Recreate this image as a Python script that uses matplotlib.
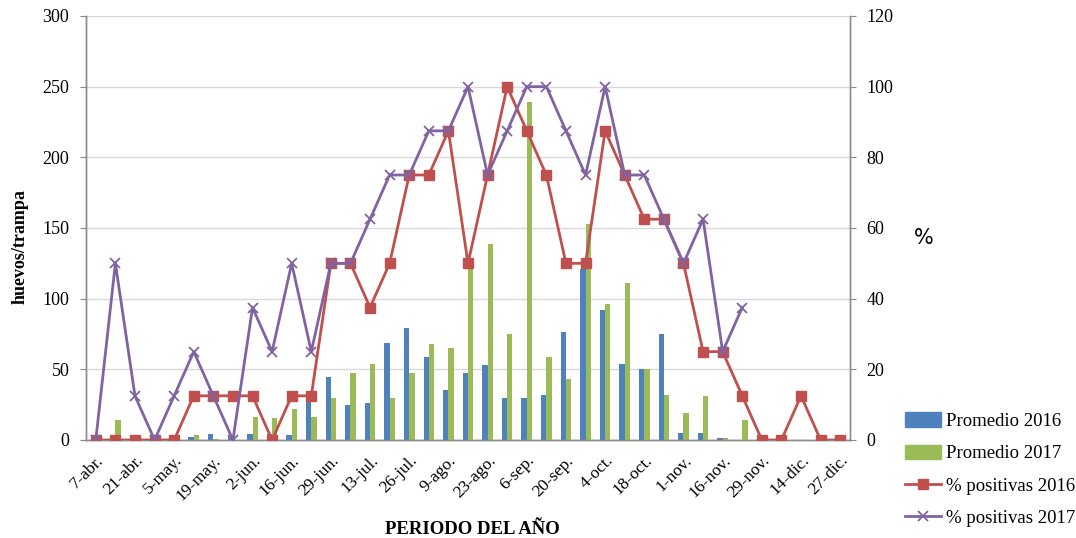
import numpy as np
import matplotlib
matplotlib.use("Agg")
import matplotlib.pyplot as plt
from matplotlib.patches import Patch
from matplotlib.lines import Line2D

plt.rcParams['font.family'] = ['Liberation Serif', 'DejaVu Serif']

tick_labels = ['7-abr.', '21-abr.', '5-may.', '19-may.', '2-jun.', '16-jun.', '29-jun.',
               '13-jul.', '26-jul.', '9-ago.', '23-ago.', '6-sep.', '20-sep.', '4-oct.',
               '18-oct.', '1-nov.', '16-nov.', '29-nov.', '14-dic.', '27-dic.']

prom_2016 = [0, 0, 0, 0, 0, 2.4, 4, 3, 4, 4, 3.3, 30.7, 44.6, 24.5, 26.2, 68.9, 79, 58.7,
             35.6, 47.4, 53, 30, 30, 31.8, 76.2, 121, 92, 54, 50, 75.2, 5, 5, 1.4, 0,
             0, 0, 0, 0, 0]
prom_2017 = [0, 14, 0, 0, 0, 3.3, 0.5, 0, 16.5, 15.3, 21.7, 16.3, 30, 47.4, 54, 30, 47.4,
             67.9, 65, 125, 138.7, 75.2, 239, 58.7, 43, 152.6, 96.2, 111, 50, 31.8, 18.9,
             30.9, 1.4, 14, 0, 0, 0, 0, 0]
pos_2016 = [0, 0, 0, 0, 0, 12.5, 12.5, 12.5, 12.5, 0, 12.5, 12.5, 50, 50, 37.5, 50, 75, 75,
            87.5, 50, 75, 100, 87.5, 75, 50, 50, 87.5, 75, 62.5, 62.5, 50, 25, 25, 12.5,
            0, 0, 12.5, 0, 0]
pos_2017 = [0, 50, 12.5, 0, 12.5, 25, 12.5, 0, 37.5, 25, 50, 25, 50, 50, 62.5, 75, 75, 87.5,
            87.5, 100, 75, 87.5, 100, 100, 87.5, 75, 100, 75, 75, 62.5, 50, 62.5, 25, 37.5,
            np.nan, np.nan, np.nan, np.nan, np.nan]

c_blue = '#4F81BD'
c_green = '#9BBB59'
c_red = '#C0504D'
c_purple = '#8064A2'

n = len(prom_2016)
x = np.arange(n)
w = 0.27

W, H = 1076, 538
fig = plt.figure(figsize=(W / 100, H / 100), dpi=100)
ax = fig.add_axes([86 / W, 1 - 440 / H, (850 - 86) / W, (440 - 16) / H])
ax2 = ax.twinx()

ax.bar(x - w / 2, prom_2016, width=w, color=c_blue, zorder=3)
ax.bar(x + w / 2, prom_2017, width=w, color=c_green, zorder=3)

ax2.plot(x, pos_2016, color=c_red, lw=2.0, marker='s', ms=7, mec=c_red, mfc=c_red, zorder=4)
ax2.plot(x, pos_2017, color=c_purple, lw=2.0, marker='x', ms=7, mew=1.3, zorder=5)

ax.set_xlim(-0.5, n - 0.5)
ax.set_ylim(0, 300)
ax.set_yticks(np.arange(0, 301, 50))
ax2.set_ylim(0, 120)
ax2.set_yticks(np.arange(0, 121, 20))

ax.set_xticks(x[::2])
ax.set_xticklabels(tick_labels, rotation=45, ha='right', rotation_mode='anchor', fontsize=12.5)
ax.tick_params(axis='x', length=0, pad=9)
ax.tick_params(axis='y', labelsize=13, length=4, color='#888888', pad=8)
ax2.tick_params(axis='y', labelsize=13, length=4, color='#888888', pad=8)

ax.grid(axis='y', color='#D9D9D9', lw=1.0, zorder=0)
ax.set_axisbelow(True)
for a in (ax, ax2):
    a.spines['top'].set_visible(False)
    for s in ('left', 'right', 'bottom'):
        a.spines[s].set_color('#8C8C8C')
        a.spines[s].set_linewidth(1.0)

fig.text(20 / W, 1 - 247 / H, 'huevos/trampa', fontsize=13, fontweight='bold',
         rotation=90, ha='center', va='center')
fig.text(472 / W, 1 - 530 / H, 'PERIODO DEL AÑO', fontsize=13.5, fontweight='bold',
         ha='center', va='center')
fig.text(924 / W, 1 - 238 / H, '%', fontsize=15, family='DejaVu Sans',
         ha='center', va='center')

handles = [Patch(color=c_blue), Patch(color=c_green),
           Line2D([], [], color=c_red, lw=2, marker='s', ms=7),
           Line2D([], [], color=c_purple, lw=2, marker='x', ms=7, mew=1.3)]
labels = ['Promedio 2016', 'Promedio 2017', '% positivas 2016', '% positivas 2017']
fig.legend(handles, labels, loc='lower left', bbox_to_anchor=(905 / W, 1 - 527 / H),
           frameon=False, borderpad=0, borderaxespad=0,
           fontsize=13.5, labelspacing=0.78, handlelength=1.9, handleheight=0.8,
           handletextpad=0.3)

fig.savefig('out.png', dpi=100)
